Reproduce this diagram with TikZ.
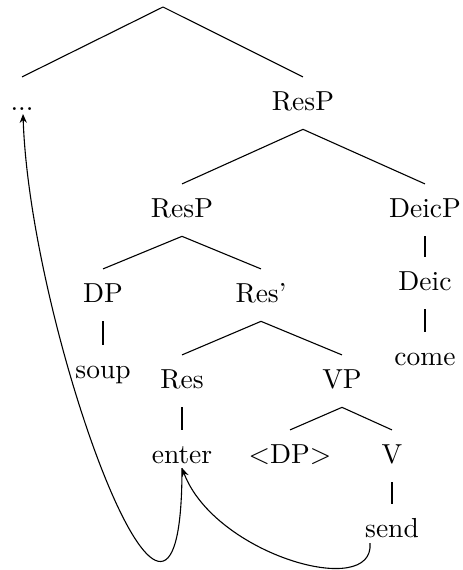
\documentclass[tikz,border=0pt]{standalone}
\usetikzlibrary{arrows.meta}
\begin{document}
\begin{tikzpicture}[x=0.3636pt,y=-0.3636pt,
  tn/.style={anchor=base,inner sep=3.33pt,text height=8.5pt,text depth=3.5pt},
  br/.style={line width=0.4pt},
  mv/.style={line width=0.4pt,-{Stealth[length=3.2pt,width=2.6pt]}}]
\useasboundingbox (0,0) rectangle (462,570);
\coordinate (root) at (163,7);
\node[tn] (dots)  at (22,110)  {...};
\node[tn] (resp)  at (303,110) {ResP};
\node[tn] (resp2) at (182,217) {ResP};
\node[tn] (deicp) at (425,217) {DeicP};
\node[tn] (dp)    at (103,302) {DP};
\node[tn] (resb)  at (261,302) {Res'};
\node[tn] (deic)  at (425,290) {Deic};
\node[tn] (come)  at (425,365) {come};
\node[tn] (soup)  at (103,378) {soup};
\node[tn] (res)   at (182,388) {Res};
\node[tn] (vp)    at (342,388) {VP};
\node[tn] (enter) at (182,463) {enter};
\node[tn] (tdp)   at (290,463) {$<$DP$>$};
\node[tn] (v)     at (392,463) {V};
\node[tn] (send)  at (392,537) {send};
\draw[br] (root) -- (dots.north);
\draw[br] (root) -- (resp.north);
\draw[br] (resp.south) -- (resp2.north);
\draw[br] (resp.south) -- (deicp.north);
\draw[br] (deicp.south) -- (deic.north);
\draw[br] (deic.south) -- (come.north);
\draw[br] (resp2.south) -- (dp.north);
\draw[br] (resp2.south) -- (resb.north);
\draw[br] (dp.south) -- (soup.north);
\draw[br] (resb.south) -- (res.north);
\draw[br] (resb.south) -- (vp.north);
\draw[br] (res.south) -- (enter.north);
\draw[br] (vp.south) -- (tdp.north);
\draw[br] (vp.south) -- (v.north);
\draw[br] (v.south) -- (send.north);
\draw[mv] ([shift={(-22,6)}]send.base) .. controls +(5,57) and +(33,87) .. ([shift={(0,5)}]enter.base);
\draw[mv] ([shift={(0,5)}]enter.base) .. controls +(0,280) and +(7,216) .. ([shift={(1,4)}]dots.base);
\end{tikzpicture}
\end{document}
